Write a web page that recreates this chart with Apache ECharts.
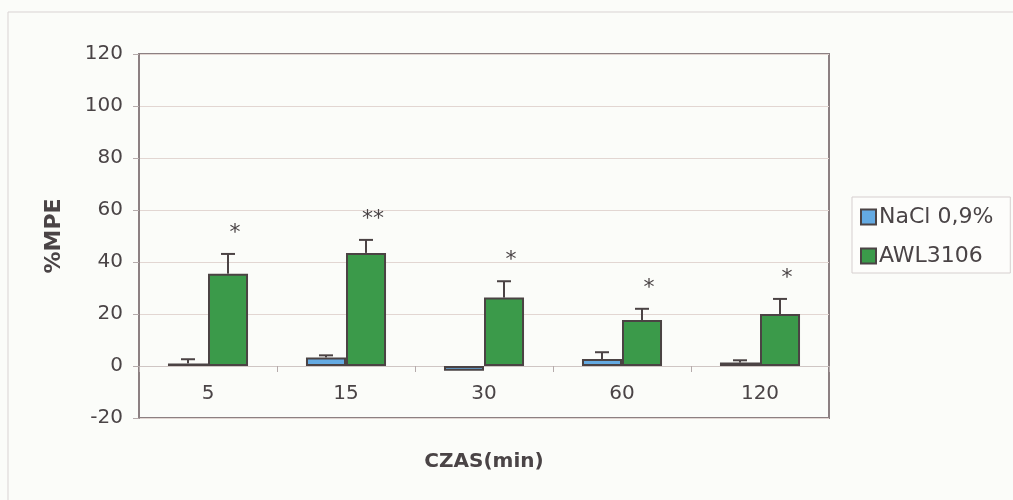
<!DOCTYPE html>
<html>
<head>
<meta charset="utf-8">
<title>%MPE – CZAS(min)</title>
<script src="https://cdn.jsdelivr.net/npm/echarts@6/dist/echarts.min.js"></script>
<style>
  html, body { margin: 0; padding: 0; background: #fbfcf9; }
  #chart { width: 1013px; height: 500px; }
</style>
</head>
<body>
<div id="chart"></div>
<script>
// Time points (min)
const categories = ['5', '15', '30', '60', '120'];
// Mean %MPE per group
const naclMean = [1.0, 3.3, -1.8, 2.7, 1.3];
const awlMean = [35.5, 43.5, 26.3, 17.7, 20.0];
// Upper error (SEM) per group
const naclErr = [1.6, 0.8, 0, 2.6, 0.9];
const awlErr = [7.6, 5.0, 6.3, 4.3, 5.8];
// Significance markers above AWL3106 bars
const significance = ['*', '**', '*', '*', '*'];
// Axis ticks
const yTicks = { min: -20, max: 120, interval: 20 };

const BLUE = '#64aae2';
const GREEN = '#3b9a4a';
const EDGE = '#4b4344';
const TEXT = '#4a4446';
const FONT = '"DejaVu Sans", Verdana, sans-serif';
const CAT_GAP = 0.42;

// Error bar (upper whisker + cap), with optional text marker above it
function errorBarRenderer(means, errs, side, marks) {
  return function (params, api) {
    const i = api.value(0);
    const band = api.size([1, 0])[0];
    const barW = band * (1 - CAT_GAP) / 2;
    const base = api.coord([i, means[i]]);
    const top = api.coord([i, means[i] + errs[i]]);
    const x = base[0] + side * barW / 2;
    const children = [];
    if (errs[i] > 0) {
      children.push({
        type: 'line',
        shape: { x1: x, y1: base[1], x2: x, y2: top[1] },
        style: { stroke: EDGE, lineWidth: 2 }
      });
      children.push({
        type: 'line',
        shape: { x1: x - 7, y1: top[1], x2: x + 7, y2: top[1] },
        style: { stroke: EDGE, lineWidth: 2 }
      });
    }
    if (marks) {
      children.push({
        type: 'text',
        x: x + 7,
        y: top[1] - 10,
        style: {
          text: marks[i],
          fill: TEXT,
          font: '22px ' + FONT,
          align: 'center',
          verticalAlign: 'bottom'
        }
      });
    }
    return { type: 'group', children: children };
  };
}

const chart = echarts.init(document.getElementById('chart'), null, { renderer: 'canvas' });

chart.setOption({
  backgroundColor: '#fbfcf9',
  animation: false,
  textStyle: { fontFamily: FONT, color: TEXT },
  graphic: [{
    type: 'rect',
    shape: { x: 8, y: 12, width: 1020, height: 500 },
    style: { fill: 'transparent', stroke: '#d9d3d3', lineWidth: 1 },
    silent: true,
    z: -1
  }],
  grid: {
    left: 139, right: 184, top: 54, bottom: 82,
    outerBoundsMode: 'none',
    containLabel: false,
    show: true,
    borderColor: '#8c8082',
    borderWidth: 2,
    backgroundColor: 'transparent'
  },
  legend: {
    orient: 'vertical',
    left: 852,
    top: 197,
    padding: [9, 17, 6, 8],
    itemGap: 17,
    itemWidth: 15,
    itemHeight: 15,
    borderColor: '#d6cfcf',
    borderWidth: 1,
    backgroundColor: '#fdfdfb',
    icon: 'rect',
    textStyle: { fontSize: 22, color: TEXT, fontFamily: FONT, padding: [0, 0, 0, -2] },
    data: ['NaCl 0,9%', 'AWL3106']
  },
  xAxis: {
    type: 'category',
    data: categories,
    name: 'CZAS(min)',
    nameLocation: 'middle',
    nameGap: 34,
    nameTextStyle: { fontSize: 20, fontWeight: 'bold', color: TEXT, fontFamily: FONT },
    axisLine: { onZero: true, lineStyle: { color: '#cfc6c4', width: 1 } },
    axisTick: { show: true, length: 6, lineStyle: { color: '#b5abab' } },
    axisLabel: { fontSize: 20, color: TEXT, margin: -34 },
    splitLine: { show: false }
  },
  yAxis: {
    type: 'value',
    min: yTicks.min,
    max: yTicks.max,
    interval: yTicks.interval,
    name: '%MPE',
    nameLocation: 'middle',
    nameGap: 74,
    nameTextStyle: { fontSize: 22, fontWeight: 'bold', color: TEXT, fontFamily: FONT },
    axisLine: { show: true, lineStyle: { color: '#8c8082', width: 2 } },
    axisTick: { show: true, length: 6, lineStyle: { color: '#b5abab' } },
    axisLabel: { fontSize: 20, color: TEXT, margin: 16 },
    splitLine: { show: true, lineStyle: { color: '#e2d6d2', width: 1 } }
  },
  series: [
    {
      name: 'NaCl 0,9%',
      type: 'bar',
      data: naclMean,
      barGap: '0%',
      barCategoryGap: (CAT_GAP * 100) + '%',
      itemStyle: { color: BLUE, borderColor: EDGE, borderWidth: 2 },
      z: 3
    },
    {
      name: 'AWL3106',
      type: 'bar',
      data: awlMean,
      barGap: '0%',
      barCategoryGap: (CAT_GAP * 100) + '%',
      itemStyle: { color: GREEN, borderColor: EDGE, borderWidth: 2 },
      z: 3
    },
    {
      type: 'custom',
      name: 'nacl-err',
      data: categories.map((c, i) => [i]),
      renderItem: errorBarRenderer(naclMean, naclErr, -1, null),
      z: 2,
      silent: true
    },
    {
      type: 'custom',
      name: 'awl-err',
      data: categories.map((c, i) => [i]),
      renderItem: errorBarRenderer(awlMean, awlErr, 1, significance),
      z: 2,
      silent: true
    }
  ]
});
</script>
</body>
</html>
